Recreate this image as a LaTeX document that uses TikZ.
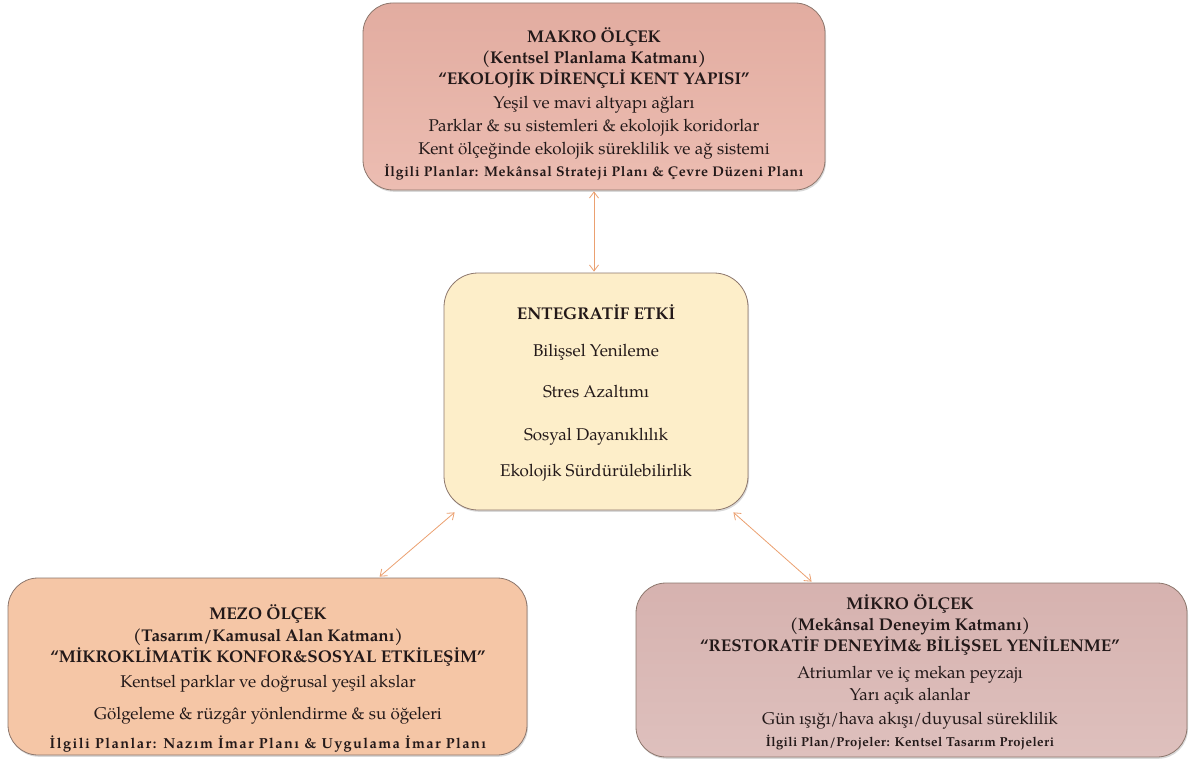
\documentclass[tikz,border=0pt]{standalone}
\usepackage{fontspec}
\setmainfont{texgyrepagella}[Extension=.otf,UprightFont=*-regular,BoldFont=*-bold,ItalicFont=*-italic,BoldItalicFont=*-bolditalic]
\usetikzlibrary{arrows.meta,shadows,calc}
\definecolor{bordc}{RGB}{140,118,108}
\definecolor{makrotop}{RGB}{226,172,160}
\definecolor{makrobot}{RGB}{236,189,178}
\definecolor{entfill}{RGB}{253,238,201}
\definecolor{mezofill}{RGB}{245,198,166}
\definecolor{mikrotop}{RGB}{214,178,175}
\definecolor{mikrobot}{RGB}{222,192,189}
\definecolor{arrc}{RGB}{235,160,112}
\definecolor{txtc}{RGB}{35,25,25}
\tikzset{
  boxbase/.style={draw=bordc, line width=0.8pt, rounded corners=30pt, inner sep=0pt,
     drop shadow={opacity=0.30, shadow xshift=1pt, shadow yshift=-1.8pt}},
  ttl/.style={font=\fontsize{17}{17}\selectfont\bfseries, text=txtc, inner sep=0pt, text height=1.5ex, text depth=.3ex},
  itm/.style={font=\fontsize{17}{17}\selectfont, text=txtc, inner sep=0pt, text height=1.5ex, text depth=.3ex},
  rel/.style={text=txtc, inner sep=0pt, text height=1.5ex, text depth=.3ex},
  arr/.style={draw=arrc, line width=0.8pt, {Straight Barb[length=6pt,width=9pt]}-{Straight Barb[length=6pt,width=9pt]}}
}
\begin{document}
\begin{tikzpicture}[x=1pt,y=-1pt]
\useasboundingbox (0,0) rectangle (1190,762);
% boxes
\node[boxbase, top color=makrotop, bottom color=makrobot, minimum width=462pt, minimum height=187pt] (makro) at (594,96.5) {};
\node[boxbase, fill=entfill, rounded corners=34pt, minimum width=304pt, minimum height=237pt] (ent) at (596,391.5) {};
\node[boxbase, fill=mezofill, minimum width=519pt, minimum height=177pt] (mezo) at (267.5,666.5) {};
\node[boxbase, top color=mikrotop, bottom color=mikrobot, minimum width=551pt, minimum height=174pt] (mikro) at (911.5,670) {};
% makro text
\node[ttl] (m1) at (594,40) {MAKRO ÖLÇEK};
\node[ttl] (m2) at (594,61) {(Kentsel Planlama Katmanı)};
\node[ttl] (m3) at (594,82) {“EKOLOJİK DİRENÇLİ KENT YAPISI”};
\node[itm] (m4) at (594,106) {Yeşil ve mavi altyapı ağları};
\node[itm] (m5) at (594,129) {Parklar \& su sistemleri \& ekolojik koridorlar};
\node[itm] (m6) at (594,152) {Kent ölçeğinde ekolojik süreklilik ve ağ sistemi};
\node[rel, font=\fontsize{14}{14}\selectfont\bfseries\addfontfeature{LetterSpace=5}] (m7) at (594,174) {İlgili Planlar: Mekânsal Strateji Planı \& Çevre Düzeni Planı};
% entegratif text
\node[ttl] (e1) at (596,317) {ENTEGRATİF ETKİ};
\node[itm] (e2) at (596,354) {Bilişsel Yenileme};
\node[itm] (e3) at (596,395) {Stres Azaltımı};
\node[itm] (e4) at (596,438) {Sosyal Dayanıklılık};
\node[itm] (e5) at (596,474) {Ekolojik Sürdürülebilirlik};
% mezo text
\node[ttl] (z1) at (268,617) {MEZO ÖLÇEK};
\node[ttl] (z2) at (268,639) {(Tasarım/Kamusal Alan Katmanı)};
\node[ttl] (z3) at (268,660) {“MİKROKLİMATİK KONFOR\&SOSYAL ETKİLEŞİM”};
\node[itm] (z4) at (268,685) {Kentsel parklar ve doğrusal yeşil akslar};
\node[itm] (z5) at (268,717) {Gölgeleme \& rüzgâr yönlendirme \& su öğeleri};
\node[rel, font=\fontsize{14.5}{14.5}\selectfont\bfseries\addfontfeature{LetterSpace=10}] (z6) at (268,746) {İlgili Planlar: Nazım İmar Planı \& Uygulama İmar Planı};
% mikro text
\node[ttl] (k1) at (910,607) {MİKRO ÖLÇEK};
\node[ttl] (k2) at (910,628) {(Mekânsal Deneyim Katmanı)};
\node[ttl] (k3) at (910,649) {“RESTORATİF DENEYİM\& BİLİŞSEL YENİLENME”};
\node[itm] (k4) at (910,676) {Atriumlar ve iç mekan peyzajı};
\node[itm] (k5) at (910,698) {Yarı açık alanlar};
\node[itm] (k6) at (910,722) {Gün ışığı/hava akışı/duyusal süreklilik};
\node[rel, font=\fontsize{13}{13}\selectfont\bfseries\addfontfeature{LetterSpace=3}] (k7) at (910,744) {İlgili Plan/Projeler: Kentsel Tasarım Projeleri};
% connectors
\draw[arr] ($(makro.south)+(0,1)$) -- ($(ent.north)+(-2,-1)$);
\draw[arr] ($(ent.south west)+(11,2)$) -- ($(mezo.north west)+(372,-1)$);
\draw[arr] ($(ent.south east)+(-15,2)$) -- ($(mikro.north west)+(176,-1)$);
\end{tikzpicture}
\end{document}
